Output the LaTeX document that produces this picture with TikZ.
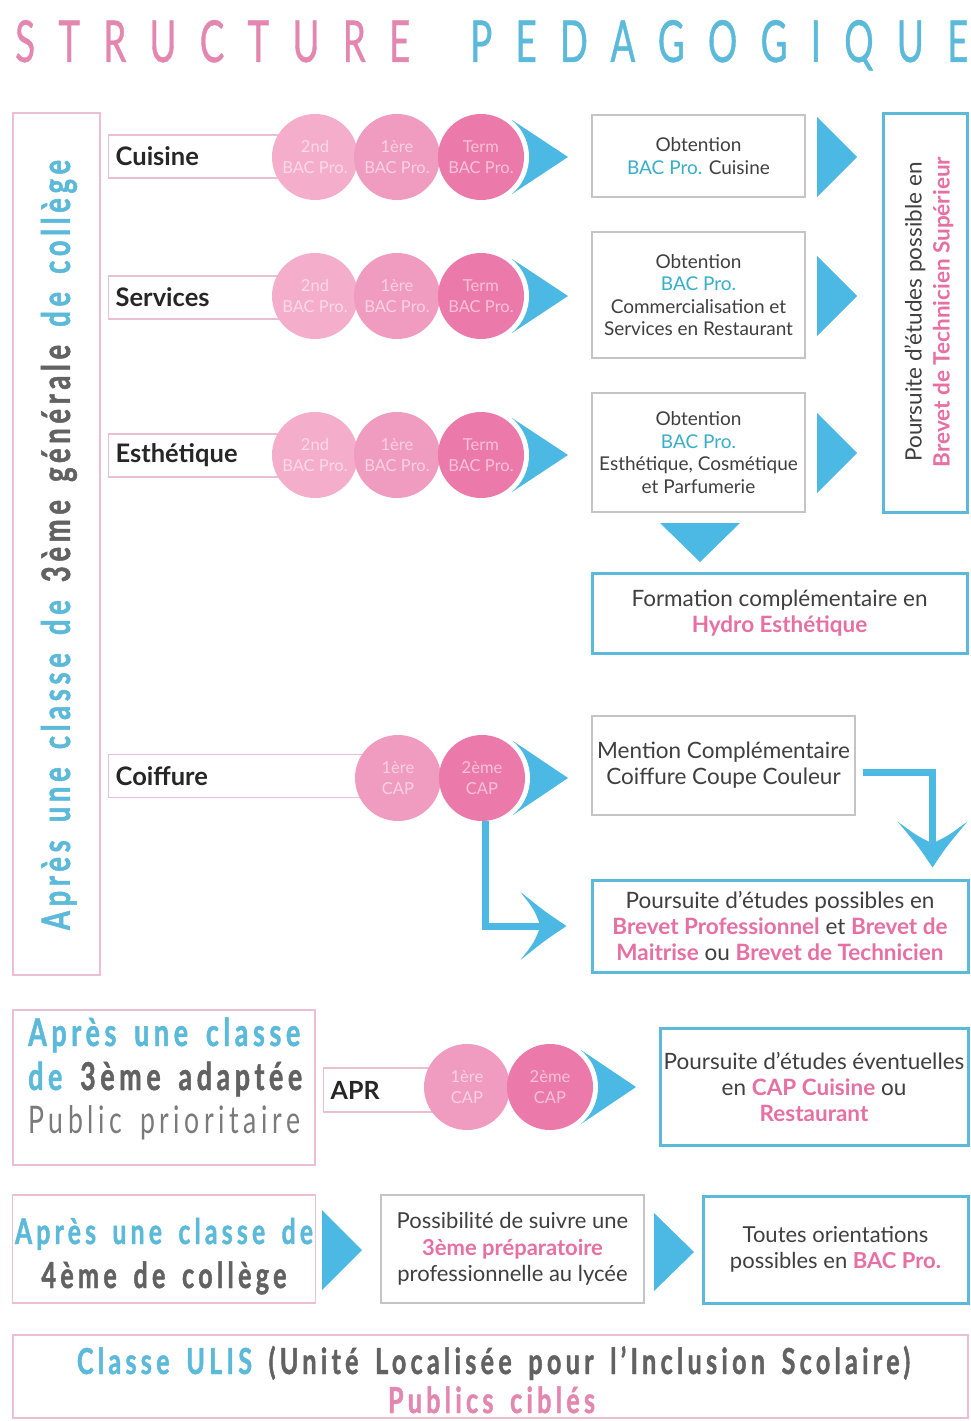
\documentclass[tikz,border=0pt]{standalone}
\usepackage{fontspec}
\setmainfont{Lato}
\newfontfamily\condf[FakeStretch=0.7,LetterSpace=12,WordSpace=1.6]{Lato}
\newfontfamily\condb[FakeStretch=0.7,LetterSpace=12,WordSpace=1.6,FakeBold=1.2]{Lato}
\newfontfamily\titlef[FakeStretch=0.6,LetterSpace=38,FakeBold=0.6]{Lato}
\usetikzlibrary{calc}
\definecolor{tpink}{HTML}{E386B0}
\definecolor{tblue}{HTML}{5BB9D9}
\definecolor{arrblue}{HTML}{4BB9E3}
\definecolor{hpink}{HTML}{E66FA3}
\definecolor{bacblue}{HTML}{38AFC7}
\definecolor{txt}{HTML}{3F3F3F}
\definecolor{txtdark}{HTML}{262626}
\definecolor{gtxt}{HTML}{626262}
\definecolor{glight}{HTML}{7A7A7A}
\definecolor{gborder}{HTML}{C4C4C4}
\definecolor{pborder}{HTML}{EBBFD3}
\definecolor{bborder}{HTML}{5CB9DA}
\definecolor{cA}{HTML}{F4ADCB}
\definecolor{cB}{HTML}{F09BC0}
\definecolor{cC}{HTML}{EB79A9}
\newcommand\pk[1]{{\color{hpink}\bfseries #1}}
\newcommand\bacrow[2]{%
  \fill[arrblue] (512,#1-37) -- (568,#1) -- (512,#1+37) -- cycle;
  \fill[white] (481,#1) circle[radius=48];
  \node[circ,fill=cA] (#2a) at (315,#1) {2nd\\BAC Pro.};
  \node[circ,fill=cB] (#2b) at (397,#1) {1ère\\BAC Pro.};
  \node[circ,fill=cC] (#2c) at (481,#1) {Term\\BAC Pro.};
}
\begin{document}
\begin{tikzpicture}[x=1pt,y=-1pt,
  circ/.style={circle, inner sep=0pt, minimum size=86pt, text=white, text opacity=0.55, align=center, font=\fontsize{16.5}{21}\selectfont},
  lab/.style={draw=pborder, line width=1.3pt, fill=white, minimum height=43pt, inner xsep=7pt, align=left, anchor=west, text=txtdark, font=\fontsize{25.5}{25.5}\selectfont\bfseries},
  pinkbox/.style={draw=pborder, line width=1.5pt},
  greybox/.style={draw=gborder, line width=1.5pt, fill=white, align=center, text=txt, inner sep=0pt},
  bluebox/.style={draw=bborder, line width=3pt, fill=white, align=center, text=txt, inner sep=0pt},
  small/.style={font=\fontsize{19}{22.5}\selectfont},
  mid/.style={font=\fontsize{22.5}{26}\selectfont},
  shaft/.style={draw=arrblue, line width=7pt},
  head/.style={fill=arrblue},
  tri/.style={fill=arrblue}
]
\useasboundingbox (0,0) rectangle (971,1421);
\fill[white] (0,0) rectangle (971,1421);

% title
\node[anchor=base west, inner sep=0pt, text=tpink] (t1) at (15,62) {\resizebox{395pt}{42pt}{\titlef\fontsize{58}{58}\selectfont STRUCTURE}};
\node[anchor=base west, inner sep=0pt, text=tblue] (t2) at (470,62) {\resizebox{498pt}{42pt}{\titlef\fontsize{58}{58}\selectfont PEDAGOGIQUE}};

% left vertical box
\node[pinkbox, minimum width=87pt, minimum height=862pt] (left) at (56.5,544) {};
\node[rotate=90, inner sep=0pt] (lefttxt) at (59,545) {\resizebox{770pt}{!}{\condb\bfseries\fontsize{30}{30}\selectfont{\color{tblue}Après une classe de} {\color{gtxt}3ème générale} {\color{tblue}de collège}}};

% label boxes
\node[lab, minimum width=177pt, text width=163pt] (cuisine) at (108,156.5) {Cuisine};
\node[lab, minimum width=177pt, text width=163pt] (services) at (108,297.5) {Services};
\node[lab, minimum width=177pt, text width=163pt] (esth) at (108,455.5) {Esthétique};
\node[lab, minimum width=264pt, text width=250pt] (coif) at (108,776) {Coiffure};

% BAC rows
\bacrow{157}{cu}
\bacrow{296}{se}
\bacrow{455}{es}

% Coiffure circles
\fill[arrblue] (513,741) -- (568,778) -- (513,815) -- cycle;
\fill[white] (482,778) circle[radius=48];
\node[circ,fill=cB] (cpa) at (398,778) {1ère\\CAP};
\node[circ,fill=cC] (cpc) at (482,778) {2ème\\CAP};

% obtention boxes
\node[greybox, small, minimum width=213pt, minimum height=82pt] (ob1) at (698.5,156) {Obtention\\{\color{bacblue}BAC Pro.} Cuisine};
\node[greybox, small, minimum width=213pt, minimum height=126pt] (ob2) at (698.5,295) {Obtention\\{\color{bacblue}BAC Pro.}\\Commercialisation et\\Services en Restaurant};
\node[greybox, small, minimum width=213pt, minimum height=119pt] (ob3) at (698.5,452.5) {Obtention\\{\color{bacblue}BAC Pro.}\\Esthétique, Cosmétique\\et Parfumerie};

% right triangles
\fill[tri] (817,117) -- (857,157) -- (817,197) -- cycle;
\fill[tri] (817,256) -- (857,296) -- (817,336) -- cycle;
\fill[tri] (817,413) -- (857,453) -- (817,493) -- cycle;

% BTS box
\node[bluebox, minimum width=84pt, minimum height=399pt] (bts) at (925,312.5) {};
\node[rotate=90, align=center, text=txt, font=\fontsize{22.5}{28}\selectfont, inner sep=0pt] (btstxt) at (929,312) {Poursuite d’études possible en\\\pk{Brevet de Technicien Supérieur}};

% down triangle and hydro
\fill[tri] (660,523) -- (740,523) -- (700,562) -- cycle;
\node[bluebox, mid, minimum width=375pt, minimum height=80pt] (hydro) at (779.5,613) {Formation complémentaire en\\\pk{Hydro Esthétique}};

% mention and poursuite
\node[greybox, mid, minimum width=263pt, minimum height=99pt] (mention) at (723.5,765.5) {Mention Complémentaire\\Coiffure Coupe Couleur};
\node[bluebox, mid, minimum width=376pt, minimum height=92pt] (pours) at (780,926) {Poursuite d’études possibles en\\\pk{Brevet Professionnel} et \pk{Brevet de}\\\pk{Maitrise} ou \pk{Brevet de Technicien}};

% elbow arrows
\coordinate (dtip) at ($(pours.north east)+(-37,-11)$);
\coordinate (htip) at ($(pours.west)+(-24,0)$);
\draw[shaft] ($(mention.east)+(7,6.5)$) -| ($(dtip)+(0,-20)$);
\begin{scope}[shift={(dtip)}]
\fill[head] (0,0) .. controls (-14,-21) .. (-35,-46) .. controls (-16,-32) .. (0,-24) .. controls (16,-32) .. (35,-46) .. controls (14,-21) .. (0,0) -- cycle;
\end{scope}
\draw[shaft] ($(cpc.south)+(3,0)$) |- ($(htip)+(-20,0)$);
\begin{scope}[shift={(htip)}]
\fill[head] (0,0) .. controls (-21,-14) .. (-46,-34) .. controls (-32,-16) .. (-26,0) .. controls (-32,16) .. (-46,34) .. controls (-21,14) .. (0,0) -- cycle;
\end{scope}

% section 2
\node[pinkbox, minimum width=302pt, minimum height=155pt] (adapt) at (164,1087.5) {};
\node[anchor=base west, inner sep=0pt] (h2a) at (28,1046) {\resizebox{272pt}{!}{\condb\bfseries\fontsize{30}{30}\selectfont\color{tblue}Après une classe}};
\node[anchor=base west, inner sep=0pt] (h2b) at (28,1090) {\resizebox{274pt}{!}{\condb\bfseries\fontsize{30}{30}\selectfont{\color{tblue}de} {\color{gtxt}3ème adaptée}}};
\node[anchor=base west, inner sep=0pt] (h2c) at (28,1133) {\resizebox{272pt}{!}{\condf\fontsize{30}{30}\selectfont\color{glight}Public prioritaire}};
\node[lab, minimum width=147pt, minimum height=44pt, text width=133pt, inner xsep=7pt, font=\fontsize{25}{25}\selectfont\bfseries] (apr) at (323,1090) {APR};
\fill[arrblue] (581,1050) -- (636,1087) -- (581,1124) -- cycle;
\fill[white] (550,1087) circle[radius=48];
\node[circ,fill=cB] (apa) at (467,1087) {1ère\\CAP};
\node[circ,fill=cC] (apc) at (550,1087) {2ème\\CAP};
\node[bluebox, mid, minimum width=308pt, minimum height=117pt] (capbox) at (814,1086.5) {Poursuite d’études éventuelles\\en \pk{CAP Cuisine} ou\\\pk{Restaurant}};

% section 3
\node[pinkbox, minimum width=303pt, minimum height=108pt] (quat) at (164,1249) {};
\node[anchor=base, inner sep=0pt] (h3a) at (164,1244) {\resizebox{298pt}{!}{\condb\bfseries\fontsize{30}{30}\selectfont\color{tblue}Après une classe de}};
\node[anchor=base, inner sep=0pt] (h3b) at (164,1288) {\resizebox{245pt}{!}{\condb\bfseries\fontsize{30}{30}\selectfont\color{gtxt}4ème de collège}};
\fill[tri] (322,1210) -- (362,1250) -- (322,1290) -- cycle;
\node[greybox, font=\fontsize{22}{26.5}\selectfont, minimum width=263pt, minimum height=108pt] (prep) at (512.5,1249) {Possibilité de suivre une\\\pk{3ème préparatoire}\\professionnelle au lycée};
\fill[tri] (654,1213) -- (694,1252) -- (654,1291) -- cycle;
\node[bluebox, font=\fontsize{22}{26.5}\selectfont, minimum width=265pt, minimum height=107pt] (bacp) at (835.5,1249.5) {Toutes orientations\\possibles en \pk{BAC Pro.}};

% section 4
\node[pinkbox, minimum width=955pt, minimum height=83pt] (ulis) at (490.5,1376.5) {};
\node[anchor=base, inner sep=0pt] (u1) at (493.5,1374) {\resizebox{833pt}{!}{\condb\bfseries\fontsize{30}{30}\selectfont{\color{tblue}Classe ULIS} {\color{gtxt}(Unité Localisée pour l’Inclusion Scolaire)}}};
\node[anchor=base, inner sep=0pt] (u2) at (491.5,1413) {\resizebox{207pt}{!}{\condb\bfseries\fontsize{30}{30}\selectfont\color{tpink}Publics ciblés}};
\end{tikzpicture}
\end{document}
